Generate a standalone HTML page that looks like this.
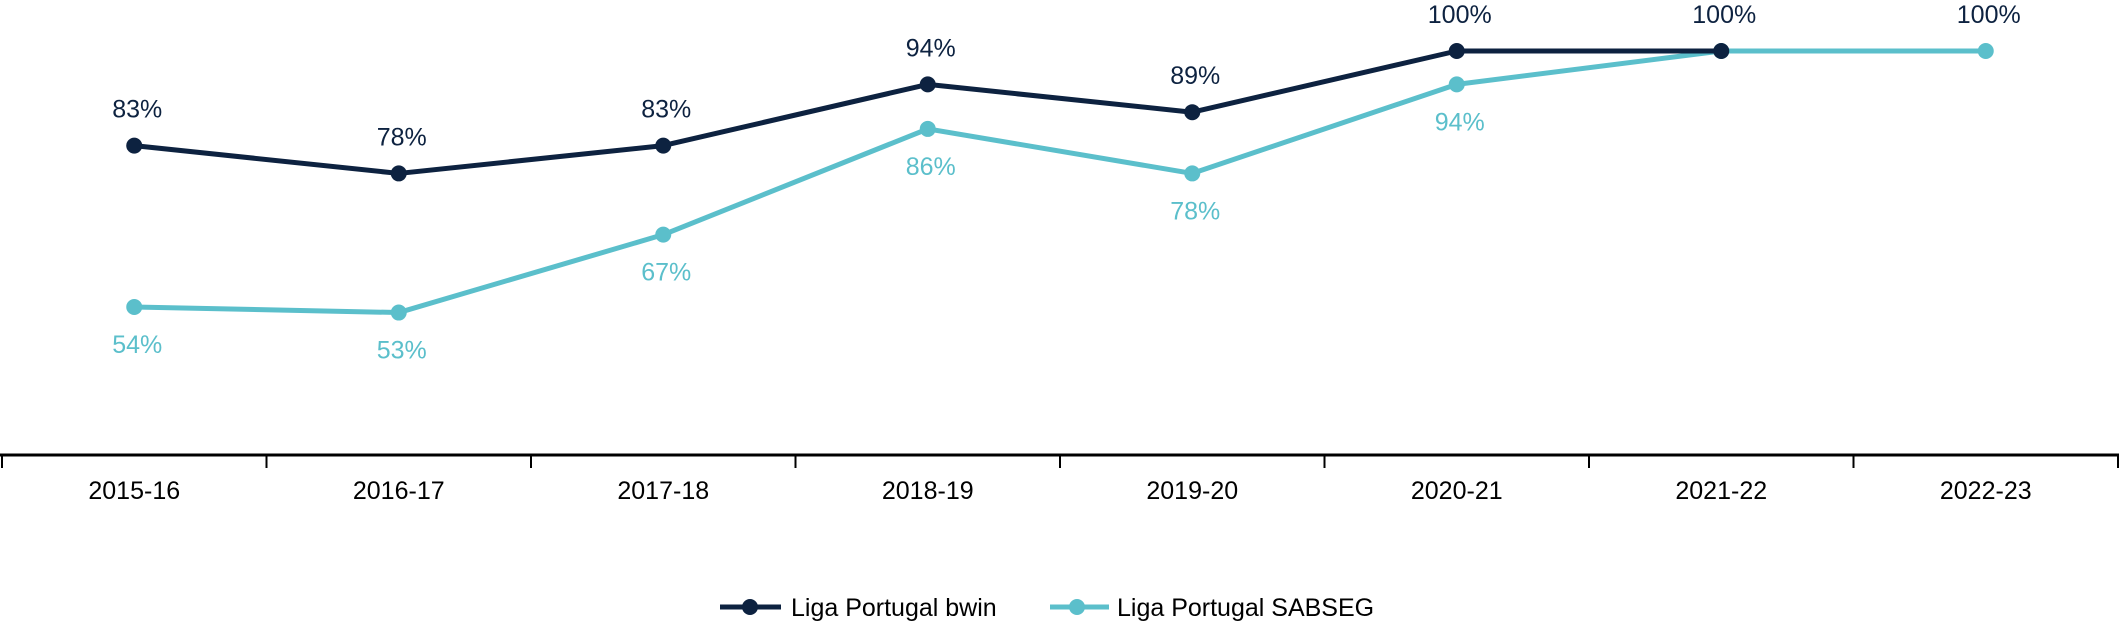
<!DOCTYPE html>
<html><head><meta charset="utf-8"><style>
html,body{margin:0;padding:0;background:#fff;}
svg{display:block;font-family:"Liberation Sans",sans-serif;}
</style></head><body>
<svg id="chart" width="2119" height="624" viewBox="0 0 2119 624" xmlns="http://www.w3.org/2000/svg">
<g id="axis"></g>
<g id="series"></g>
<g id="legend">
  <line x1="720" y1="607" x2="781" y2="607" stroke="#0d2240" stroke-width="5"/>
  <circle cx="750" cy="607" r="8" fill="#0d2240"/>
  <text x="791" y="616" font-size="25" fill="#000">Liga Portugal bwin</text>
  <line x1="1050" y1="607" x2="1109" y2="607" stroke="#5bbfcb" stroke-width="5"/>
  <circle cx="1077" cy="607" r="8" fill="#5bbfcb"/>
  <text x="1117" y="616" font-size="25" fill="#000">Liga Portugal SABSEG</text>
</g>
</svg>
<script>
const categories = ["2015-16","2016-17","2017-18","2018-19","2019-20","2020-21","2021-22","2022-23"];
const bwin = [83,78,83,94,89,100,100,null];
const sabseg = [54,53,67,86,78,94,100,100];
const bwinLabels = ["83%","78%","83%","94%","89%","100%","100%","100%"];
const sabsegLabels = ["54%","53%","67%","86%","78%","94%",null,null];

const NS="http://www.w3.org/2000/svg";
const left=2, right=2118, axisY=455;
const band=(right-left)/categories.length;
const x=i=>left+band*(i+0.5);
const y=v=>51+(100-v)*5.565;
function mk(tag,attrs,parent){const e=document.createElementNS(NS,tag);for(const k in attrs)e.setAttribute(k,attrs[k]);parent.appendChild(e);return e;}
const axis=document.getElementById('axis');
const al=mk('line',{x1:left-2,y1:axisY,x2:right+1,y2:axisY,stroke:'#000','stroke-width':3},axis);


for(let i=0;i<=categories.length;i++){
  const t=mk('line',{x1:left+band*i,y1:axisY,x2:left+band*i,y2:axisY+13,stroke:'#000','stroke-width':2},axis);
  
  
}
categories.forEach((c,i)=>{
  const t=mk('text',{x:x(i),y:499,'font-size':25,'text-anchor':'middle',fill:'#000'},axis);
  t.textContent=c;
  
  
});
const sg=document.getElementById('series');
function draw(vals,labels,color,name,above){
  let pts=[];vals.forEach((v,i)=>{if(v!=null)pts.push(x(i)+','+y(v));});
  const pl=mk('polyline',{points:pts.join(' '),fill:'none',stroke:color,'stroke-width':5,'stroke-linejoin':'round'},sg);
  
  
  vals.forEach((v,i)=>{
    if(v==null)return;
    const c=mk('circle',{cx:x(i),cy:y(v),r:8,fill:color},sg);
    
    
  });
  labels.forEach((l,i)=>{
    if(l==null)return;
    const v=vals[i]!=null?vals[i]:sabseg[i];
    const t=mk('text',{x:x(i)+3,y:above?y(v)-28:y(v)+46,'font-size':25,'text-anchor':'middle',fill:color},sg);
    t.textContent=l;
    
    
  });
}
draw(sabseg,sabsegLabels,'#5bbfcb','sabseg',false);
draw(bwin,bwinLabels,'#0d2240','bwin',true);
</script>
</body></html>
